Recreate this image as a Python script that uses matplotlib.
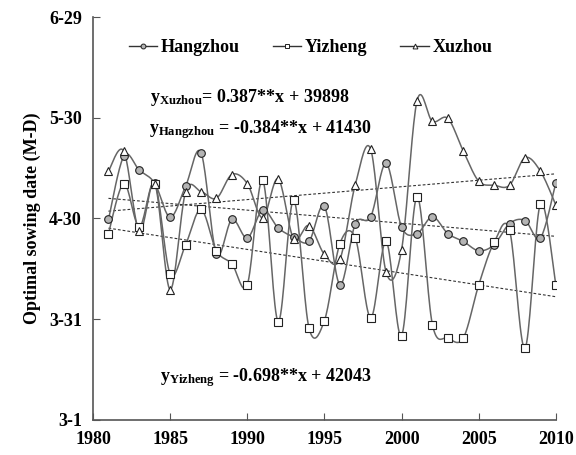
import matplotlib
matplotlib.use("Agg")
import matplotlib.pyplot as plt
import numpy as np

plt.rcParams['font.family'] = ['Liberation Serif', 'DejaVu Serif']
plt.rcParams['font.weight'] = 'bold'
plt.rcParams['mathtext.fontset'] = 'custom'
plt.rcParams['mathtext.rm'] = 'Liberation Serif:bold'
plt.rcParams['mathtext.it'] = 'Liberation Serif:bold'

# years and optimal sowing date as day of year (3-1 = 60, 4-30 = 120 ...)
years = np.arange(1981, 2011)
hangzhou = [119.7, 138.6, 134.4, 130.5, 120.4, 129.6, 139.6, 109.5, 119.7, 114.2,
            122.5, 117.2, 114.5, 113.2, 123.6, 100.3, 118.4, 120.5, 136.4, 117.5,
            115.5, 120.5, 115.5, 113.2, 110.4, 112.2, 118.5, 119.4, 114.2, 130.6]
yizheng = [115.5, 130.4, 117.5, 130.4, 103.5, 112.2, 122.7, 110.4, 106.5, 100.3,
           131.4, 89.3, 125.5, 87.4, 89.6, 112.5, 114.2, 90.4, 113.2, 85.1,
           126.5, 88.4, 84.4, 84.4, 100.2, 112.9, 116.5, 81.4, 124.4, 100.3]
xuzhou = [134.1, 140.0, 116.2, 130.4, 98.8, 127.9, 128.0, 126.0, 133.1, 130.4,
          120.2, 131.8, 114.0, 117.9, 109.3, 107.8, 130.1, 140.6, 104.0, 110.7,
          155.0, 148.9, 149.8, 140.1, 131.1, 129.9, 129.9, 138.1, 134.1, 124.0]

ytick_vals = [60, 90, 120, 150, 180]
ytick_labels = ['3-1', '3-31', '4-30', '5-30', '6-29']
xtick_vals = [1980, 1985, 1990, 1995, 2000, 2005, 2010]


def smooth(x, y, n=20):
    # excel style smoothed line (bezier through the points)
    x = np.asarray(x, float)
    y = np.asarray(y, float)
    px = np.concatenate([[x[0]], x, [x[-1]]])
    py = np.concatenate([[y[0]], y, [y[-1]]])
    t = np.linspace(0, 1, n)
    xs, ys = [], []
    for i in range(1, len(px) - 2):
        p0 = np.array([px[i], py[i]])
        p3 = np.array([px[i + 1], py[i + 1]])
        p1 = p0 + (p3 - np.array([px[i - 1], py[i - 1]])) / 6
        p2 = p3 - (np.array([px[i + 2], py[i + 2]]) - p0) / 6
        b = ((1 - t) ** 3)[:, None] * p0 + (3 * (1 - t) ** 2 * t)[:, None] * p1 \
            + (3 * (1 - t) * t ** 2)[:, None] * p2 + (t ** 3)[:, None] * p3
        xs.extend(b[:, 0])
        ys.extend(b[:, 1])
    return np.array(xs), np.array(ys)


fig = plt.figure(figsize=(5.76, 4.55), dpi=100)
ax = fig.add_axes([0.1615, 0.077, 0.8035, 0.8856])

lc = '#666666'
series = [
    ('Hangzhou', hangzhou, 'o', '#b4b4b4'),
    ('Yizheng', yizheng, 's', 'white'),
    ('Xuzhou', xuzhou, '^', 'white'),
]
for name, vals, mk, fc in series:
    sx, sy = smooth(years, vals)
    ax.plot(sx, sy, color=lc, lw=1.1, zorder=2)
    ax.plot(years, vals, ls='none', marker=mk, ms=5.5, mfc=fc, mec='#222222', mew=0.8, zorder=3)
    k, b = np.polyfit(years, vals, 1)
    ax.plot([years[0], years[-1]], [k * years[0] + b, k * years[-1] + b],
            ls=(0, (2.5, 1.8)), color='#333333', lw=0.8, zorder=1)

# legend handles
hs = []
for name, vals, mk, fc in series:
    h, = ax.plot([], [], color='#333333', lw=1.0, marker=mk, ms=3.5, mfc=fc, mec='#222222', mew=0.7, label=name)
    hs.append(h)
ax.legend(handles=hs, loc='upper center', bbox_to_anchor=(0.47, 0.985), ncol=3, frameon=False,
          prop={'size': 13, 'weight': 'bold'}, handlelength=1.6, handletextpad=0.2, columnspacing=1.8)

ax.text(1983.7, 156.0, r'$\mathrm{y}_{\mathrm{Xuzhou}}$= 0.387**x + 39898', fontsize=13,
        fontweight='bold', va='center', ha='left')
ax.text(1983.6, 146.6, r'$\mathrm{y}_{\mathrm{Hangzhou}}$ = -0.384**x + 41430', fontsize=13,
        fontweight='bold', va='center', ha='left')
ax.text(1984.35, 72.5, r'$\mathrm{y}_{\mathrm{Yizheng}}$ = -0.698**x + 42043', fontsize=13,
        fontweight='bold', va='center', ha='left')

ax.set_xlim(1980, 2010)
ax.set_ylim(60, 180)
ax.set_xticks(xtick_vals)
ax.set_yticks(ytick_vals)
ax.set_yticklabels(ytick_labels)
ax.tick_params(direction='in', length=5, color='#555555', labelsize=13, pad=8)
ax.set_ylabel('Optimal sowing date (M-D)', fontsize=13, fontweight='bold', labelpad=6)
for s in ['top', 'right']:
    ax.spines[s].set_visible(False)
for s in ['left', 'bottom']:
    ax.spines[s].set_color('#555555')
    ax.spines[s].set_linewidth(1.2)

fig.savefig('out.png', dpi=100)
